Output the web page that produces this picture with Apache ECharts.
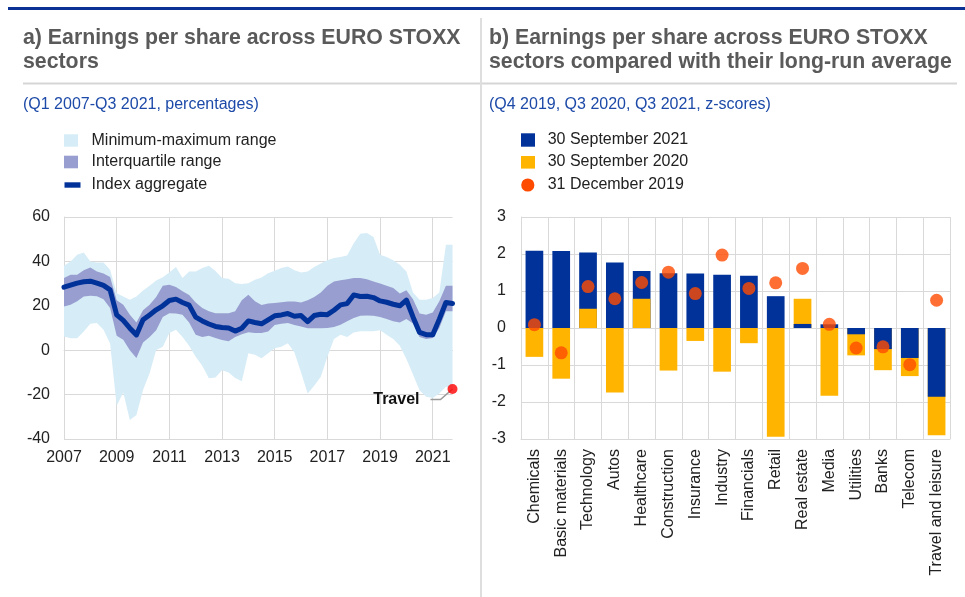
<!DOCTYPE html>
<html><head><meta charset="utf-8">
<script src="https://cdn.jsdelivr.net/npm/echarts@6/dist/echarts.min.js"></script>
<style>html,body{margin:0;padding:0;background:#fff}#c{width:965px;height:597px}</style>
</head><body><div id="c"></div>
<script>
// ---------- Panel a data (quarterly, Q1 2007 - Q3 2021, percentages) ----------
const startYear = 2007;
const epsMin = [6.2,5.4,5.4,8.4,11.9,12.2,9.2,3,-25,-19,-31.4,-29.2,-17.9,-10.4,0.1,1.6,7.7,9.2,6,2,
  -3,-7,-12.6,-12.3,-9,-10,-12.5,-14,-1.4,-2.1,-3.6,-1.4,0.9,1.6,3.1,-1,-10,-19.5,-16,-12,
  -3,5,7,6,8,8.5,8.5,8.5,9,7,5,2,-4,-11,-18,-21,-21.5,-19.5,-16.5,-17.5];
const epsP25 = [19.7,20.5,22,24.2,24.5,24.3,23,19,6.5,4.7,0,-3.5,3.5,6,9,15,16.7,16.5,16,12.5,
  7,6,6.5,5.5,4.6,4,6,7.2,8.1,7.7,7.7,8.4,11.4,11.9,12.2,11.4,10.7,9.9,9.9,9.9,
  10,10.5,11.5,13,14.5,15.5,15.6,15.5,15,14,13,12.5,14,12,6,5,5.5,10,17.5,17.5];
const epsP75 = [32.5,34,34,36,37.3,35.5,34.5,33,22.5,20.5,16,12.5,18,20.5,24,29,29.5,28.5,26.5,24.9,
  21.5,19,17.5,16.7,16.7,16.7,17.5,22.5,25,22,20.4,21,21.3,21.6,21.9,21.9,21.5,22.5,24,26,
  29,31,31.5,32,32.5,32.5,32,31,30,29,28,25.5,27,23,16.5,16,17,22,29,29];
const epsMax = [38,40,43,44,40,39.5,39.5,36.2,25.7,24.2,22.7,24.2,26.9,29,31.4,32.9,35,37.5,32.5,35.5,
  35.5,37,38,35.7,32.5,32.2,30.2,29.8,30.2,31.7,32.8,34.7,35.8,37,37.7,36,35,35.5,37.5,39,
  40.5,41.5,42,42.7,48.2,52.5,52.8,51,43,42,40.5,38.5,35.5,26,22.7,22.7,23.5,26,47.5,47.5];
const epsAggregate = [28.4,29.3,30.2,30.8,31.1,30.2,29.2,27.2,15.9,13.4,9.9,6.9,13.7,15.9,18.2,20,22.4,23,21.5,20.3,
  14.9,13.2,11.8,10.7,10.2,10,8.6,9.9,13.2,12.5,11.9,13.7,15.5,15.9,16.5,15.3,15.6,12.9,15.6,16.2,
  16,18,20.4,21,24.9,24.2,24.3,23.7,22.2,21.6,20.7,20,22.6,15,8,7,7,14,21.5,21];
const travelLabel = 'Travel';
const yearTicksA = [2007,2009,2011,2013,2015,2017,2019,2021];

// ---------- Panel b data (z-scores) ----------
const sectors = ['Chemicals','Basic materials','Technology','Autos','Healthcare','Construction','Insurance','Industry',
  'Financials','Retail','Real estate','Media','Utilities','Banks','Telecom','Travel and leisure'];
const sep2021 = [2.09,2.08,2.04,1.77,1.54,1.48,1.47,1.44,1.41,0.86,0.11,0.10,-0.17,-0.57,-0.81,-1.86];
const sep2020 = [-0.78,-1.37,0.52,-1.74,0.79,-1.15,-0.35,-1.18,-0.41,-2.94,0.79,-1.83,-0.74,-1.14,-1.30,-2.90];
const dec2019 = [0.09,-0.67,1.12,0.79,1.23,1.51,0.93,1.97,1.07,1.22,1.61,0.10,-0.54,-0.51,-0.99,0.75];

// ---------- styles ----------
const FONT = 'Liberation Sans, Arial, sans-serif';
const C_LIGHT = '#d6ecf7', C_DARK = '#989ecf', C_BLUE = '#003299', C_ORANGE = '#ffb400', C_RED = '#ff4b00';
const GRIDC = '#d9d9d9', TXT = '#222222', TITLEC = '#5a5a5a', SUBC = '#1d4aa8';
const FS = 16;

const xs = epsMin.map((_, i) => startYear + i * 0.25);
const xy = arr => arr.map((v, i) => [xs[i], v]);

// overlapping bars: the bar with the larger magnitude sits behind
const pick = (a, b, wantLarger) => a.map((v, i) => {
  const larger = Math.abs(v) > Math.abs(b[i]) || (Math.abs(v) === Math.abs(b[i]) && wantLarger);
  return larger === wantLarger ? v : '-';
});

const chart = echarts.init(document.getElementById('c'), null, {renderer: 'canvas'});
const axisLabel = {fontFamily: FONT, fontSize: FS, color: TXT};

function bandRender(lower, upper, color) {
  return function (params, api) {
    const pts = [];
    for (let i = 0; i < xs.length; i++) pts.push(api.coord([xs[i], upper[i]]));
    for (let i = xs.length - 1; i >= 0; i--) pts.push(api.coord([xs[i], lower[i]]));
    return {type: 'polygon', shape: {points: pts}, style: {fill: color}};
  };
}

const option = {
  animation: false,
  title: [
    {text: 'a) Earnings per share across EURO STOXX\nsectors', left: 23, top: 26,
      textStyle: {fontFamily: FONT, fontSize: 21.3, fontWeight: 'bold', color: TITLEC, lineHeight: 24}, padding: 0},
    {text: 'b) Earnings per share across EURO STOXX\nsectors compared with their long-run average', left: 489, top: 26,
      textStyle: {fontFamily: FONT, fontSize: 21.3, fontWeight: 'bold', color: TITLEC, lineHeight: 24}, padding: 0},
    {text: '(Q1 2007-Q3 2021, percentages)', left: 23, top: 96,
      textStyle: {fontFamily: FONT, fontSize: FS, fontWeight: 'normal', color: SUBC, lineHeight: 18}, padding: 0},
    {text: '(Q4 2019, Q3 2020, Q3 2021, z-scores)', left: 489, top: 96,
      textStyle: {fontFamily: FONT, fontSize: FS, fontWeight: 'normal', color: SUBC, lineHeight: 18}, padding: 0}
  ],
  grid: [
    {left: 64, top: 217, width: 388.5, height: 222},
    {left: 521, top: 217, width: 429, height: 222}
  ],
  xAxis: [
    {gridIndex: 0, type: 'value', min: 2007, max: 2021.75, interval: 2,
      axisLine: {show: true, lineStyle: {color: GRIDC}}, axisTick: {show: false},
      axisLabel: Object.assign({}, axisLabel, {margin: 11, showMaxLabel: false,
        formatter: v => (yearTicksA.indexOf(v) >= 0 ? String(v) : '')}),
      splitLine: {show: true, showMaxLine: false, lineStyle: {color: GRIDC, width: 1}}},
    {gridIndex: 1, type: 'category', data: sectors, boundaryGap: true,
      axisLine: {show: true, onZero: false, lineStyle: {color: GRIDC}}, axisTick: {show: false},
      axisLabel: Object.assign({}, axisLabel, {rotate: 90, interval: 0, margin: 10}),
      splitLine: {show: true, interval: 0, lineStyle: {color: GRIDC, width: 1}}}
  ],
  yAxis: [
    {gridIndex: 0, type: 'value', min: -40, max: 60, interval: 20,
      axisLine: {show: true, lineStyle: {color: GRIDC}}, axisTick: {show: false},
      axisLabel: Object.assign({}, axisLabel, {margin: 14}),
      splitLine: {show: true, lineStyle: {color: GRIDC, width: 1}}},
    {gridIndex: 1, type: 'value', min: -3, max: 3, interval: 1,
      axisLine: {show: true, lineStyle: {color: GRIDC}}, axisTick: {show: false},
      axisLabel: Object.assign({}, axisLabel, {margin: 15}),
      splitLine: {show: true, lineStyle: {color: GRIDC, width: 1}}}
  ],
  series: [
    {name: 'Minimum-maximum range', type: 'custom', xAxisIndex: 0, yAxisIndex: 0, silent: true, z: 1,
      data: [[xs[0], epsMin[0]]], renderItem: bandRender(epsMin, epsMax, C_LIGHT)},
    {name: 'Interquartile range', type: 'custom', xAxisIndex: 0, yAxisIndex: 0, silent: true, z: 2,
      data: [[xs[0], epsP25[0]]], renderItem: bandRender(epsP25, epsP75, C_DARK)},
    {name: 'Index aggregate', type: 'line', xAxisIndex: 0, yAxisIndex: 0, data: xy(epsAggregate),
      symbol: 'none', showSymbol: false, z: 5,
      lineStyle: {color: C_BLUE, width: 5, join: 'round', cap: 'round'}},
    {id: 'travel', name: travelLabel, type: 'scatter', xAxisIndex: 0, yAxisIndex: 0,
      data: [[xs[xs.length - 1], epsMin[epsMin.length - 1]]], symbolSize: 10, z: 6,
      itemStyle: {color: '#ff0000'}},
    // panel b
    {name: '30 September 2021', type: 'bar', xAxisIndex: 1, yAxisIndex: 1, data: pick(sep2021, sep2020, true),
      barWidth: '66%', barGap: '-100%', itemStyle: {color: C_BLUE}, z: 2},
    {name: '30 September 2020', type: 'bar', xAxisIndex: 1, yAxisIndex: 1, data: pick(sep2020, sep2021, true).map((v, i) => (Math.abs(sep2020[i]) === Math.abs(sep2021[i]) ? '-' : v)),
      barWidth: '66%', barGap: '-100%', itemStyle: {color: C_ORANGE}, z: 2},
    {name: '30 September 2021', type: 'bar', xAxisIndex: 1, yAxisIndex: 1, data: pick(sep2021, sep2020, false),
      barWidth: '66%', barGap: '-100%', itemStyle: {color: C_BLUE}, z: 3},
    {name: '30 September 2020', type: 'bar', xAxisIndex: 1, yAxisIndex: 1, data: pick(sep2020, sep2021, false),
      barWidth: '66%', barGap: '-100%', itemStyle: {color: C_ORANGE}, z: 3},
    {name: '31 December 2019', type: 'scatter', xAxisIndex: 1, yAxisIndex: 1, data: dec2019,
      symbolSize: 13, itemStyle: {color: C_RED}, z: 10}
  ]
};
chart.setOption(option);

// ---------- decorations, legends and annotation ----------
const dot = chart.convertToPixel({seriesId: 'travel'}, [xs[xs.length - 1], epsMin[epsMin.length - 1]]);
const T = (x, y, s) => ({type: 'text', x: x, y: y,
  style: {text: s, font: FS + 'px ' + FONT, fill: TXT, verticalAlign: 'middle'}});
const graphics = [
  {type: 'rect', shape: {x: 8, y: 7, width: 957, height: 3}, style: {fill: '#0b3195'}},
  {type: 'rect', shape: {x: 480, y: 18, width: 2, height: 579}, style: {fill: '#dedede'}},
  {type: 'rect', shape: {x: 23, y: 82.5, width: 457, height: 2}, style: {fill: '#d6d6d6'}},
  {type: 'rect', shape: {x: 482, y: 82.5, width: 475, height: 2}, style: {fill: '#d6d6d6'}},
  // legend a
  {type: 'rect', shape: {x: 64, y: 134.3, width: 14, height: 12.4}, style: {fill: C_LIGHT}},
  {type: 'rect', shape: {x: 64, y: 155.7, width: 14, height: 12.6}, style: {fill: C_DARK}},
  {type: 'rect', shape: {x: 64.5, y: 182.3, width: 16, height: 5.4}, style: {fill: C_BLUE}},
  T(91.5, 140.5, 'Minimum-maximum range'),
  T(91.5, 162, 'Interquartile range'),
  T(91.5, 185, 'Index aggregate'),
  // legend b
  {type: 'rect', shape: {x: 521, y: 133.3, width: 14, height: 13.4}, style: {fill: C_BLUE}},
  {type: 'rect', shape: {x: 521, y: 156, width: 14, height: 12.6}, style: {fill: C_ORANGE}},
  {type: 'circle', shape: {cx: 527.8, cy: 185, r: 6.6}, style: {fill: C_RED}},
  T(547.7, 140, '30 September 2021'),
  T(547.7, 162, '30 September 2020'),
  T(547.7, 185, '31 December 2019'),
  // Travel annotation
  {type: 'polyline', z: 4, shape: {points: [[dot[0], dot[1]], [dot[0] - 12, dot[1] + 10.5], [dot[0] - 22, dot[1] + 10.5]]},
    style: {stroke: '#9a9a9a', lineWidth: 1.5, fill: null}},
  {type: 'text', z: 4, x: dot[0] - 33, y: dot[1] + 11, style: {text: travelLabel, font: 'bold 16px ' + FONT, fill: '#111',
    align: 'right', verticalAlign: 'middle'}}
];
chart.setOption({graphic: {elements: graphics}});
</script>
</body></html>
